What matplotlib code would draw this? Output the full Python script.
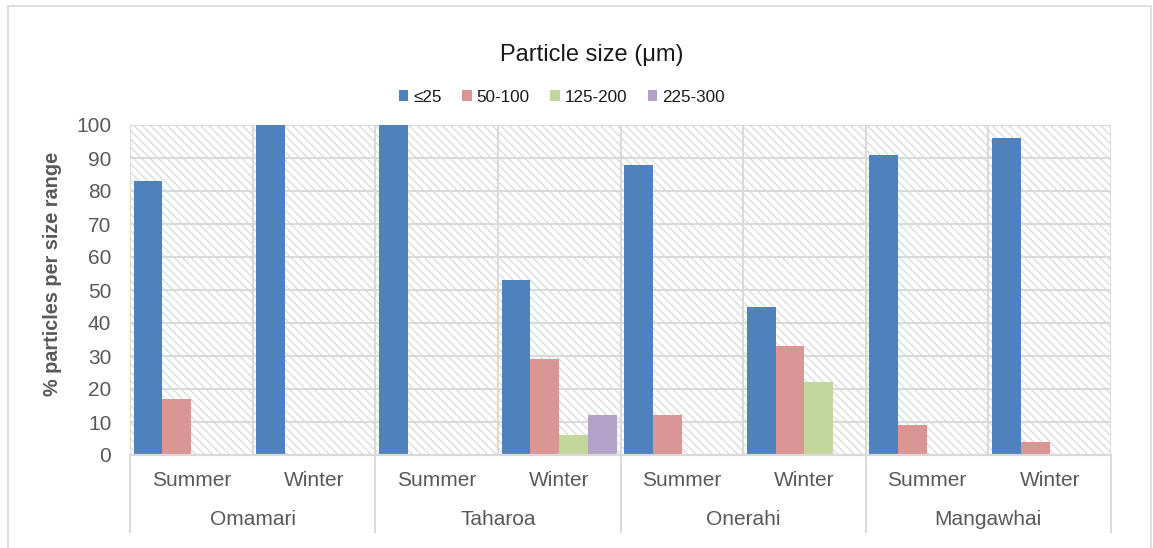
import matplotlib
matplotlib.use("Agg")
import matplotlib.pyplot as plt
from matplotlib.patches import Rectangle
from matplotlib.lines import Line2D
import numpy as np

plt.rcParams['font.family'] = ['Liberation Sans', 'DejaVu Sans']
plt.rcParams['hatch.linewidth'] = 1.0

sites = ["Omamari", "Taharoa", "Onerahi", "Mangawhai"]
seasons = ["Summer", "Winter"]
size_ranges = ["≤25", "50-100", "125-200", "225-300"]

# % particles per size range, ordered Omamari S/W, Taharoa S/W, Onerahi S/W, Mangawhai S/W
le25 = [83, 100, 100, 53, 88, 45, 91, 96]
r50_100 = [17, 0, 0, 29, 12, 33, 9, 4]
r125_200 = [0, 0, 0, 6, 0, 22, 0, 0]
r225_300 = [0, 0, 0, 12, 0, 0, 0, 0]
series = [le25, r50_100, r125_200, r225_300]
colors = ["#4F81BD", "#D99694", "#C3D69B", "#B3A2C7"]

W, H = 1153, 548
fig = plt.figure(figsize=(W / 100, H / 100), dpi=100)
ax = fig.add_axes([130 / W, 1 - 455 / H, (1111 - 130) / W, 330 / H])

grid_c = "#D9D9D9"
text_c = "#595959"

# hatched plot background
ax.add_patch(Rectangle((0, 0), 1, 1, transform=ax.transAxes, facecolor="white",
                       edgecolor="#DCDCDC", linewidth=0, hatch="\\\\\\\\", zorder=0))

n_cat = len(sites) * len(seasons)
x = np.arange(n_cat) + 0.5
gap = 0.06
bw = (1 - gap) / len(series)
for k, (vals, c) in enumerate(zip(series, colors)):
    offs = -0.5 + gap / 2 + bw * (k + 0.5)
    ax.bar(x + offs, vals, width=bw, color=c, label=size_ranges[k], zorder=3, linewidth=0)

ax.set_xlim(0, n_cat)
ax.set_ylim(0, 100)
ax.set_yticks(np.arange(0, 101, 10))
for yv in np.arange(10, 101, 10):
    ax.axhline(yv, color=grid_c, lw=1.4, zorder=1)
for xv in range(0, n_cat + 1):
    ax.axvline(xv, color=grid_c, lw=1.4, zorder=1)
ax.axhline(0, color=grid_c, lw=1.6, zorder=4, clip_on=False)

for s in ax.spines.values():
    s.set_visible(False)
ax.tick_params(axis='y', length=0, labelsize=15, labelcolor=text_c, pad=13.5)
ax.set_xticks([])

ax.set_ylabel("% particles per size range", fontsize=14.3, fontweight="bold",
              color=text_c, ha="center", va="center")
ax.yaxis.set_label_coords(-0.0795, 0.55)

# two-level category axis
tr = ax.get_xaxis_transform()
for i in range(n_cat):
    ax.text(x[i], -0.076, seasons[i % 2], transform=tr, ha="center", va="center",
            fontsize=15, color=text_c)
for j, site in enumerate(sites):
    ax.text(2 * j + 1, -0.194, site, transform=tr, ha="center", va="center",
            fontsize=15, color=text_c)
for xv in range(0, n_cat + 1, 2):
    ax.add_line(Line2D([xv, xv], [0, -0.234], transform=tr, color=grid_c, lw=1.4,
                       clip_on=False))

fig.text(592 / W, 1 - 55 / H, "Particle size (μm)", ha="center", va="center",
         fontsize=17, color="#1A1A1A")
leg = fig.legend(loc="center", bbox_to_anchor=(562 / W, 1 - 97 / H), ncol=4,
                 frameon=False, fontsize=12.3, handlelength=0.55, handleheight=0.55,
                 handletextpad=0.3, columnspacing=1.2)
for t in leg.get_texts():
    t.set_color("#1A1A1A")

# chart frame
fig.add_artist(Rectangle((8 / W, -0.01), (1151 - 8) / W, 1 - 6 / H + 0.01,
                         transform=fig.transFigure, fill=False, edgecolor=grid_c, lw=1.2))

fig.savefig("out.png", dpi=100)
